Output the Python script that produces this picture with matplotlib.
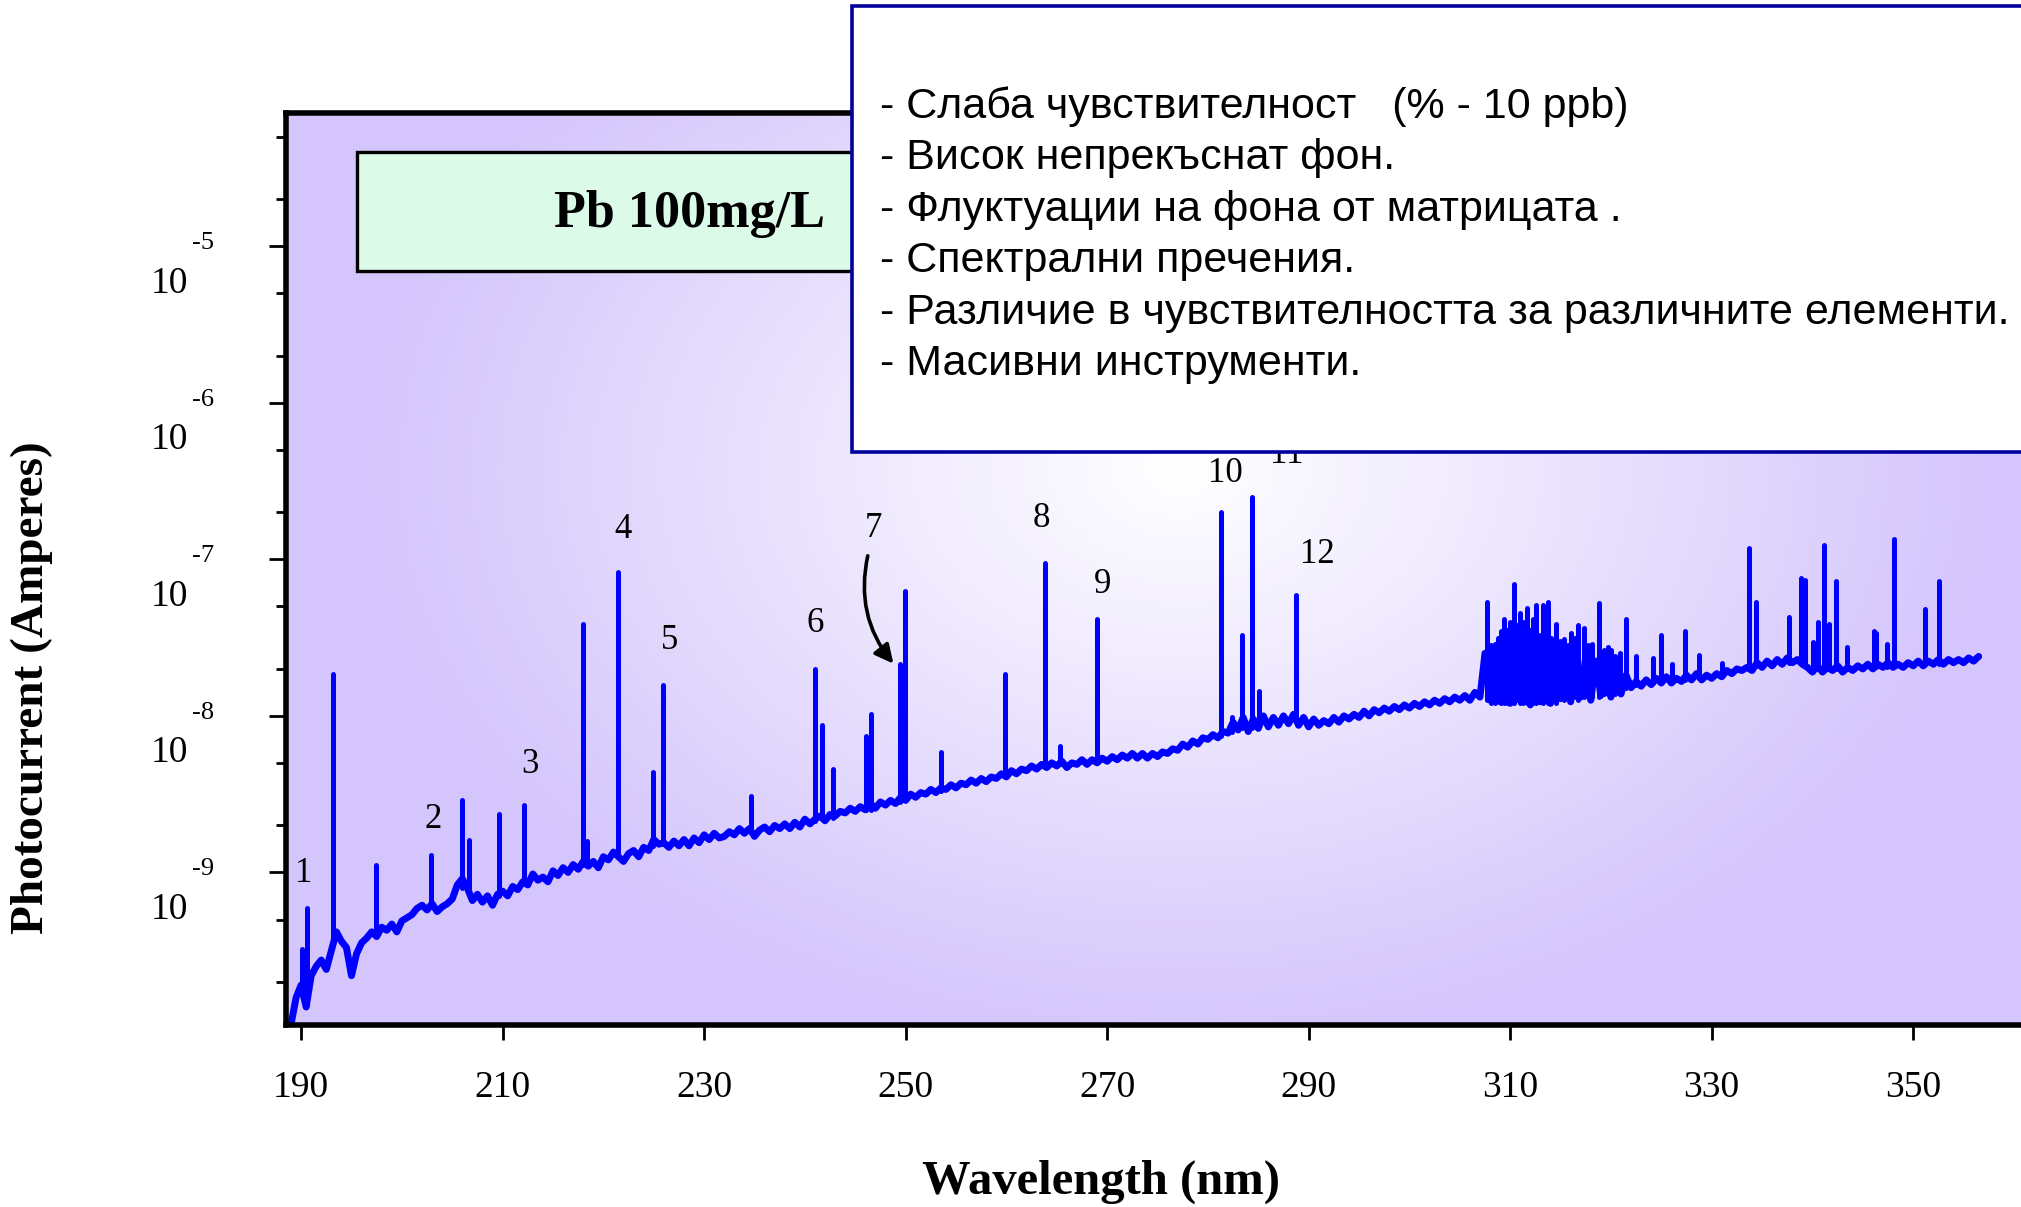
import numpy as np
import matplotlib
matplotlib.use('Agg')
import matplotlib.pyplot as plt
from matplotlib import transforms
from matplotlib.patches import Rectangle, FancyArrowPatch
from matplotlib.ticker import LogLocator, MultipleLocator, NullFormatter

plt.rcParams['font.family'] = ['Liberation Serif', 'DejaVu Serif']

W, H = 2021, 1207  # output size in pixels (dpi 100)

# Continuum background: log10(photocurrent / A), one value every 0.5 nm from 189.0 nm
base_start, base_step = 189.0, 0.5
base_log = [
    -9.97, -9.80, -9.72, -9.86, -9.66, -9.60, -9.56, -9.62, -9.50, -9.38,  # 189.0
    -9.44, -9.48, -9.66, -9.52, -9.45, -9.42, -9.38, -9.41, -9.35, -9.37,  # 194.0
    -9.33, -9.38, -9.31, -9.29, -9.27, -9.23, -9.21, -9.24, -9.20, -9.25,  # 199.0
    -9.22, -9.20, -9.17, -9.08, -9.04, -9.10, -9.18, -9.14, -9.19, -9.15,  # 204.0
    -9.21, -9.14, -9.12, -9.15, -9.09, -9.11, -9.06, -9.08, -9.01, -9.05,  # 209.0
    -9.03, -9.06, -8.99, -9.02, -8.97, -9.00, -8.95, -8.98, -8.93, -8.96,  # 214.0
    -8.93, -8.97, -8.90, -8.92, -8.87, -8.90, -8.93, -8.88, -8.86, -8.90,  # 219.0
    -8.84, -8.86, -8.79, -8.82, -8.81, -8.84, -8.80, -8.83, -8.79, -8.83,  # 224.0
    -8.78, -8.81, -8.76, -8.79, -8.75, -8.78, -8.77, -8.74, -8.76, -8.72,  # 229.0
    -8.75, -8.72, -8.77, -8.73, -8.71, -8.74, -8.70, -8.72, -8.69, -8.72,  # 234.0
    -8.68, -8.71, -8.66, -8.69, -8.66, -8.64, -8.67, -8.63, -8.64, -8.61,  # 239.0
    -8.62, -8.59, -8.61, -8.58, -8.60, -8.56, -8.59, -8.55, -8.57, -8.54,  # 244.0
    -8.56, -8.52, -8.54, -8.50, -8.52, -8.49, -8.50, -8.47, -8.49, -8.46,  # 249.0
    -8.47, -8.44, -8.46, -8.43, -8.44, -8.41, -8.43, -8.40, -8.42, -8.39,  # 254.0
    -8.40, -8.37, -8.39, -8.35, -8.37, -8.34, -8.35, -8.32, -8.34, -8.31,  # 259.0
    -8.33, -8.30, -8.32, -8.29, -8.33, -8.30, -8.31, -8.28, -8.31, -8.28,  # 264.0
    -8.30, -8.27, -8.29, -8.26, -8.28, -8.25, -8.27, -8.24, -8.27, -8.24,  # 269.0
    -8.27, -8.24, -8.26, -8.23, -8.24, -8.21, -8.22, -8.18, -8.20, -8.16,  # 274.0
    -8.18, -8.14, -8.15, -8.12, -8.14, -8.10, -8.11, -8.04, -8.09, -8.01,  # 279.0
    -8.10, -8.02, -8.08, -8.00, -8.07, -8.01, -8.06, -8.00, -8.05, -7.99,  # 284.0
    -8.06, -8.01, -8.07, -8.02, -8.06, -8.03, -8.05, -8.01, -8.04, -8.00,  # 289.0
    -8.02, -7.99, -8.01, -7.97, -8.00, -7.96, -7.98, -7.95, -7.97, -7.94,  # 294.0
    -7.96, -7.93, -7.95, -7.92, -7.94, -7.91, -7.93, -7.90, -7.92, -7.89,  # 299.0
    -7.91, -7.88, -7.90, -7.87, -7.90, -7.85, -7.88, -7.60, -7.90, -7.62,  # 304.0
    -7.91, -7.58, -7.92, -7.62, -7.90, -7.56, -7.93, -7.60, -7.91, -7.58,  # 309.0
    -7.92, -7.63, -7.89, -7.60, -7.91, -7.66, -7.88, -7.62, -7.90, -7.65,  # 314.0
    -7.87, -7.68, -7.88, -7.70, -7.86, -7.74, -7.82, -7.78, -7.81, -7.77,  # 319.0
    -7.80, -7.76, -7.79, -7.75, -7.79, -7.76, -7.78, -7.74, -7.77, -7.73,  # 324.0
    -7.77, -7.74, -7.76, -7.73, -7.75, -7.71, -7.73, -7.70, -7.71, -7.69,  # 329.0
    -7.71, -7.66, -7.69, -7.65, -7.68, -7.64, -7.67, -7.63, -7.66, -7.64,  # 334.0
    -7.67, -7.69, -7.72, -7.68, -7.72, -7.69, -7.71, -7.68, -7.72, -7.69,  # 339.0
    -7.71, -7.68, -7.70, -7.67, -7.70, -7.67, -7.69, -7.66, -7.69, -7.67,  # 344.0
    -7.69, -7.66, -7.68, -7.65, -7.68, -7.65, -7.67, -7.64, -7.67, -7.64,  # 349.0
    -7.66, -7.64, -7.66, -7.63, -7.65, -7.62,                              # 354.0
]

# Emission lines: wavelength (nm), log10 at foot, log10 at top
line_wl = [190.07, 190.57, 193.2, 197.4, 202.9, 205.95, 206.7, 209.6, 212.1,
           218.0, 218.4, 221.5, 224.9, 225.9, 234.7, 241.0, 241.7, 242.8,
           246.1, 246.6, 249.45, 249.95, 253.5, 259.9, 263.85, 265.3, 269.0,
           281.3, 282.4, 283.4, 284.4, 285.1, 288.7,
           307.74, 308.1, 308.46, 308.8, 309.1, 309.4, 309.7, 310.0, 310.39,
           310.7, 310.94, 311.3, 311.66, 312.0, 312.3, 312.59, 312.9, 313.26,
           313.75, 314.1, 314.52, 314.9, 315.35, 315.7, 316.01, 316.4, 316.73,
           317.28, 317.7, 318.11, 318.83, 319.3, 319.7, 320.04, 320.4, 320.87,
           321.53, 322.52, 324.18, 325.0, 326.1, 327.32, 328.7, 331.07,
           333.66, 334.38, 337.68, 338.9, 339.23, 340.06, 340.6, 341.1,
           341.65, 342.37, 343.47, 346.07, 346.3, 347.39, 348.05, 351.19, 352.57]
line_foot = [-9.72, -9.85, -9.45, -9.40, -9.22, -9.10, -9.10, -9.15, -9.05,
             -8.95, -8.95, -8.88, -8.83, -8.82, -8.74, -8.67, -8.66, -8.65,
             -8.60, -8.60, -8.55, -8.54, -8.48, -8.38, -8.32, -8.31, -8.29,
             -8.13, -8.10, -8.08, -8.08, -8.06, -8.03,
             -7.90, -7.92, -7.92, -7.90, -7.92, -7.92, -7.92, -7.90, -7.92,
             -7.90, -7.92, -7.92, -7.92, -7.90, -7.92, -7.92, -7.90, -7.92,
             -7.92, -7.90, -7.92, -7.88, -7.90, -7.88, -7.90, -7.88, -7.90,
             -7.88, -7.88, -7.88, -7.88, -7.86, -7.86, -7.86, -7.86, -7.84,
             -7.82, -7.80, -7.79, -7.78, -7.78, -7.77, -7.76, -7.74,
             -7.70, -7.68, -7.66, -7.66, -7.67, -7.69, -7.70, -7.70,
             -7.70, -7.70, -7.70, -7.69, -7.69, -7.69, -7.68, -7.67, -7.67]
line_top = [-9.49, -9.23, -7.73, -8.95, -8.89, -8.54, -8.79, -8.63, -8.57,
            -7.41, -8.80, -7.08, -8.36, -7.80, -8.51, -7.70, -8.06, -8.34,
            -8.13, -7.99, -7.67, -7.20, -8.23, -7.73, -7.02, -8.19, -7.38,
            -6.70, -8.01, -7.48, -6.60, -7.84, -7.23,
            -7.27, -7.55, -7.54, -7.50, -7.46, -7.38, -7.45, -7.40, -7.16,
            -7.42, -7.34, -7.40, -7.31, -7.45, -7.38, -7.29, -7.48, -7.29,
            -7.27, -7.50, -7.41, -7.52, -7.51, -7.55, -7.47, -7.50, -7.42,
            -7.44, -7.55, -7.54, -7.28, -7.58, -7.56, -7.58, -7.62, -7.60,
            -7.38, -7.62, -7.63, -7.48, -7.67, -7.46, -7.61, -7.66,
            -6.93, -7.27, -7.37, -7.12, -7.13, -7.53, -7.40, -6.91,
            -7.41, -7.14, -7.56, -7.46, -7.47, -7.54, -6.87, -7.32, -7.14]

# Numbered line markers: text, wavelength, log10 position
mark_text = ['1', '2', '3', '4', '5', '6', '7', '8', '9', '10', '11', '12']
mark_wl = [190.3, 203.1, 212.7, 221.9, 226.6, 241.0, 246.8, 263.5, 269.5, 281.7, 287.8, 290.9]
mark_log = [-9.01, -8.66, -8.31, -6.81, -7.52, -7.41, -6.80, -6.74, -7.16, -6.45, -6.33, -6.97]

x_major = [190, 210, 230, 250, 270, 290, 310, 330, 350]
y_exp = [-5, -6, -7, -8, -9]

notes = [
    '- Слаба чувствителност   (% - 10 ppb)',
    '- Висок непрекъснат фон.',
    '- Флуктуации на фона от матрицата .',
    '- Спектрални пречения.',
    '- Различие в чувствителността за различните елементи.',
    '- Масивни инструменти.',
]

fig = plt.figure(figsize=(W / 100, H / 100), dpi=100)
pos = [286 / W, 1 - 1025 / H, 1 - 286 / W, (1025 - 113) / H]

# radial lavender-to-white backdrop behind the plot area
bg = fig.add_axes(pos, zorder=0)
bg.axis('off')
gx, gy = np.meshgrid(np.linspace(286, W, 500), np.linspace(113, 1025, 300))
d = np.sqrt(((gx - 1180) / 820) ** 2 + ((gy - 470) / 580) ** 2)
t = np.clip(d, 0, 1)[..., None]
lav = np.array([212, 197, 252]) / 255
bg.imshow((1 - t) + t * lav, extent=[0, 1, 0, 1], origin='upper', aspect='auto')

ax = fig.add_axes(pos, zorder=1)
ax.set_facecolor('none')
ax.set_yscale('log')

wl = base_start + base_step * np.arange(len(base_log))
ax.plot(wl, 10.0 ** np.array(base_log), color='#0000FF', lw=5,
        solid_joinstyle='round', solid_capstyle='round')
ax.vlines(line_wl, 10.0 ** np.array(line_foot), 10.0 ** np.array(line_top),
          colors='#0000FF', linewidth=3.6, capstyle='round')

ax.set_xlim(188.5, 360.7)
ax.set_ylim(10 ** -9.975, 10 ** -4.148)

for s in ['left', 'bottom', 'top']:
    ax.spines[s].set_linewidth(4)
ax.spines['right'].set_visible(False)

ax.set_xticks(x_major)
ax.xaxis.set_minor_locator(MultipleLocator(20, offset=10))
ax.tick_params(axis='x', which='major', direction='out', length=11, width=2,
               labelsize=27, pad=22)
ax.tick_params(axis='x', which='minor', direction='out', length=7, width=2)
ax.yaxis.set_major_locator(LogLocator(base=10, numticks=20))
ax.yaxis.set_minor_locator(LogLocator(base=10, subs=(2, 5), numticks=20))
ax.yaxis.set_minor_formatter(NullFormatter())
ax.tick_params(axis='y', which='major', direction='out', length=12, width=2, labelleft=False)
ax.tick_params(axis='y', which='minor', direction='out', length=7, width=2)
ax.tick_params(top=False, right=False, which='both')

# y tick labels drawn as "10" with a raised exponent
blend = transforms.blended_transform_factory(fig.transFigure, ax.transData)
base_tr = transforms.offset_copy(blend, fig=fig, y=-37, units='dots')
exp_tr = transforms.offset_copy(blend, fig=fig, y=3, units='dots')
for e in y_exp:
    ax.text(169 / W, 10.0 ** e, '10', transform=base_tr, ha='center', va='center', fontsize=27)
    ax.text(203 / W, 10.0 ** e, str(e), transform=exp_tr, ha='center', va='center', fontsize=19)

for txt, x, y in zip(mark_text, mark_wl, mark_log):
    ax.text(x, 10.0 ** y, txt, ha='center', va='center', fontsize=25)

arrow = FancyArrowPatch((246.3, 10 ** -6.96), (248.96, 10 ** -7.68),
                        connectionstyle='arc3,rad=0.25', arrowstyle='-|>',
                        mutation_scale=28, lw=2.6, color='black')
ax.add_patch(arrow)

fig.text(32 / W, 1 - 688 / H, 'Photocurrent (Amperes)', rotation=90, ha='center',
         va='center', fontsize=34, fontweight='bold')
fig.text(1101 / W, 1 - 1182 / H, 'Wavelength (nm)', ha='center', va='center',
         fontsize=35, fontweight='bold')

# sample label box
fig.add_artist(Rectangle((357 / W, 1 - 271 / H), (880 - 357) / W, (271 - 152) / H,
                         transform=fig.transFigure, facecolor='#DCFAE8',
                         edgecolor='black', lw=2.4, zorder=5))
fig.text(690 / W, 1 - 214 / H, 'Pb 100mg/L', ha='center', va='center',
         fontsize=37.5, fontweight='bold', zorder=6)

# notes box
fig.add_artist(Rectangle((852 / W, 1 - 452 / H), (2060 - 852) / W, (452 - 6) / H,
                         transform=fig.transFigure, facecolor='white',
                         edgecolor='#00009C', lw=2.6, zorder=7))
for i, line in enumerate(notes):
    fig.text(880 / W, 1 - (107 + 51.5 * i) / H, line, ha='left', va='center',
             fontsize=31, family=['Liberation Sans', 'DejaVu Sans'], zorder=8)

fig.savefig('out.png', dpi=100)
